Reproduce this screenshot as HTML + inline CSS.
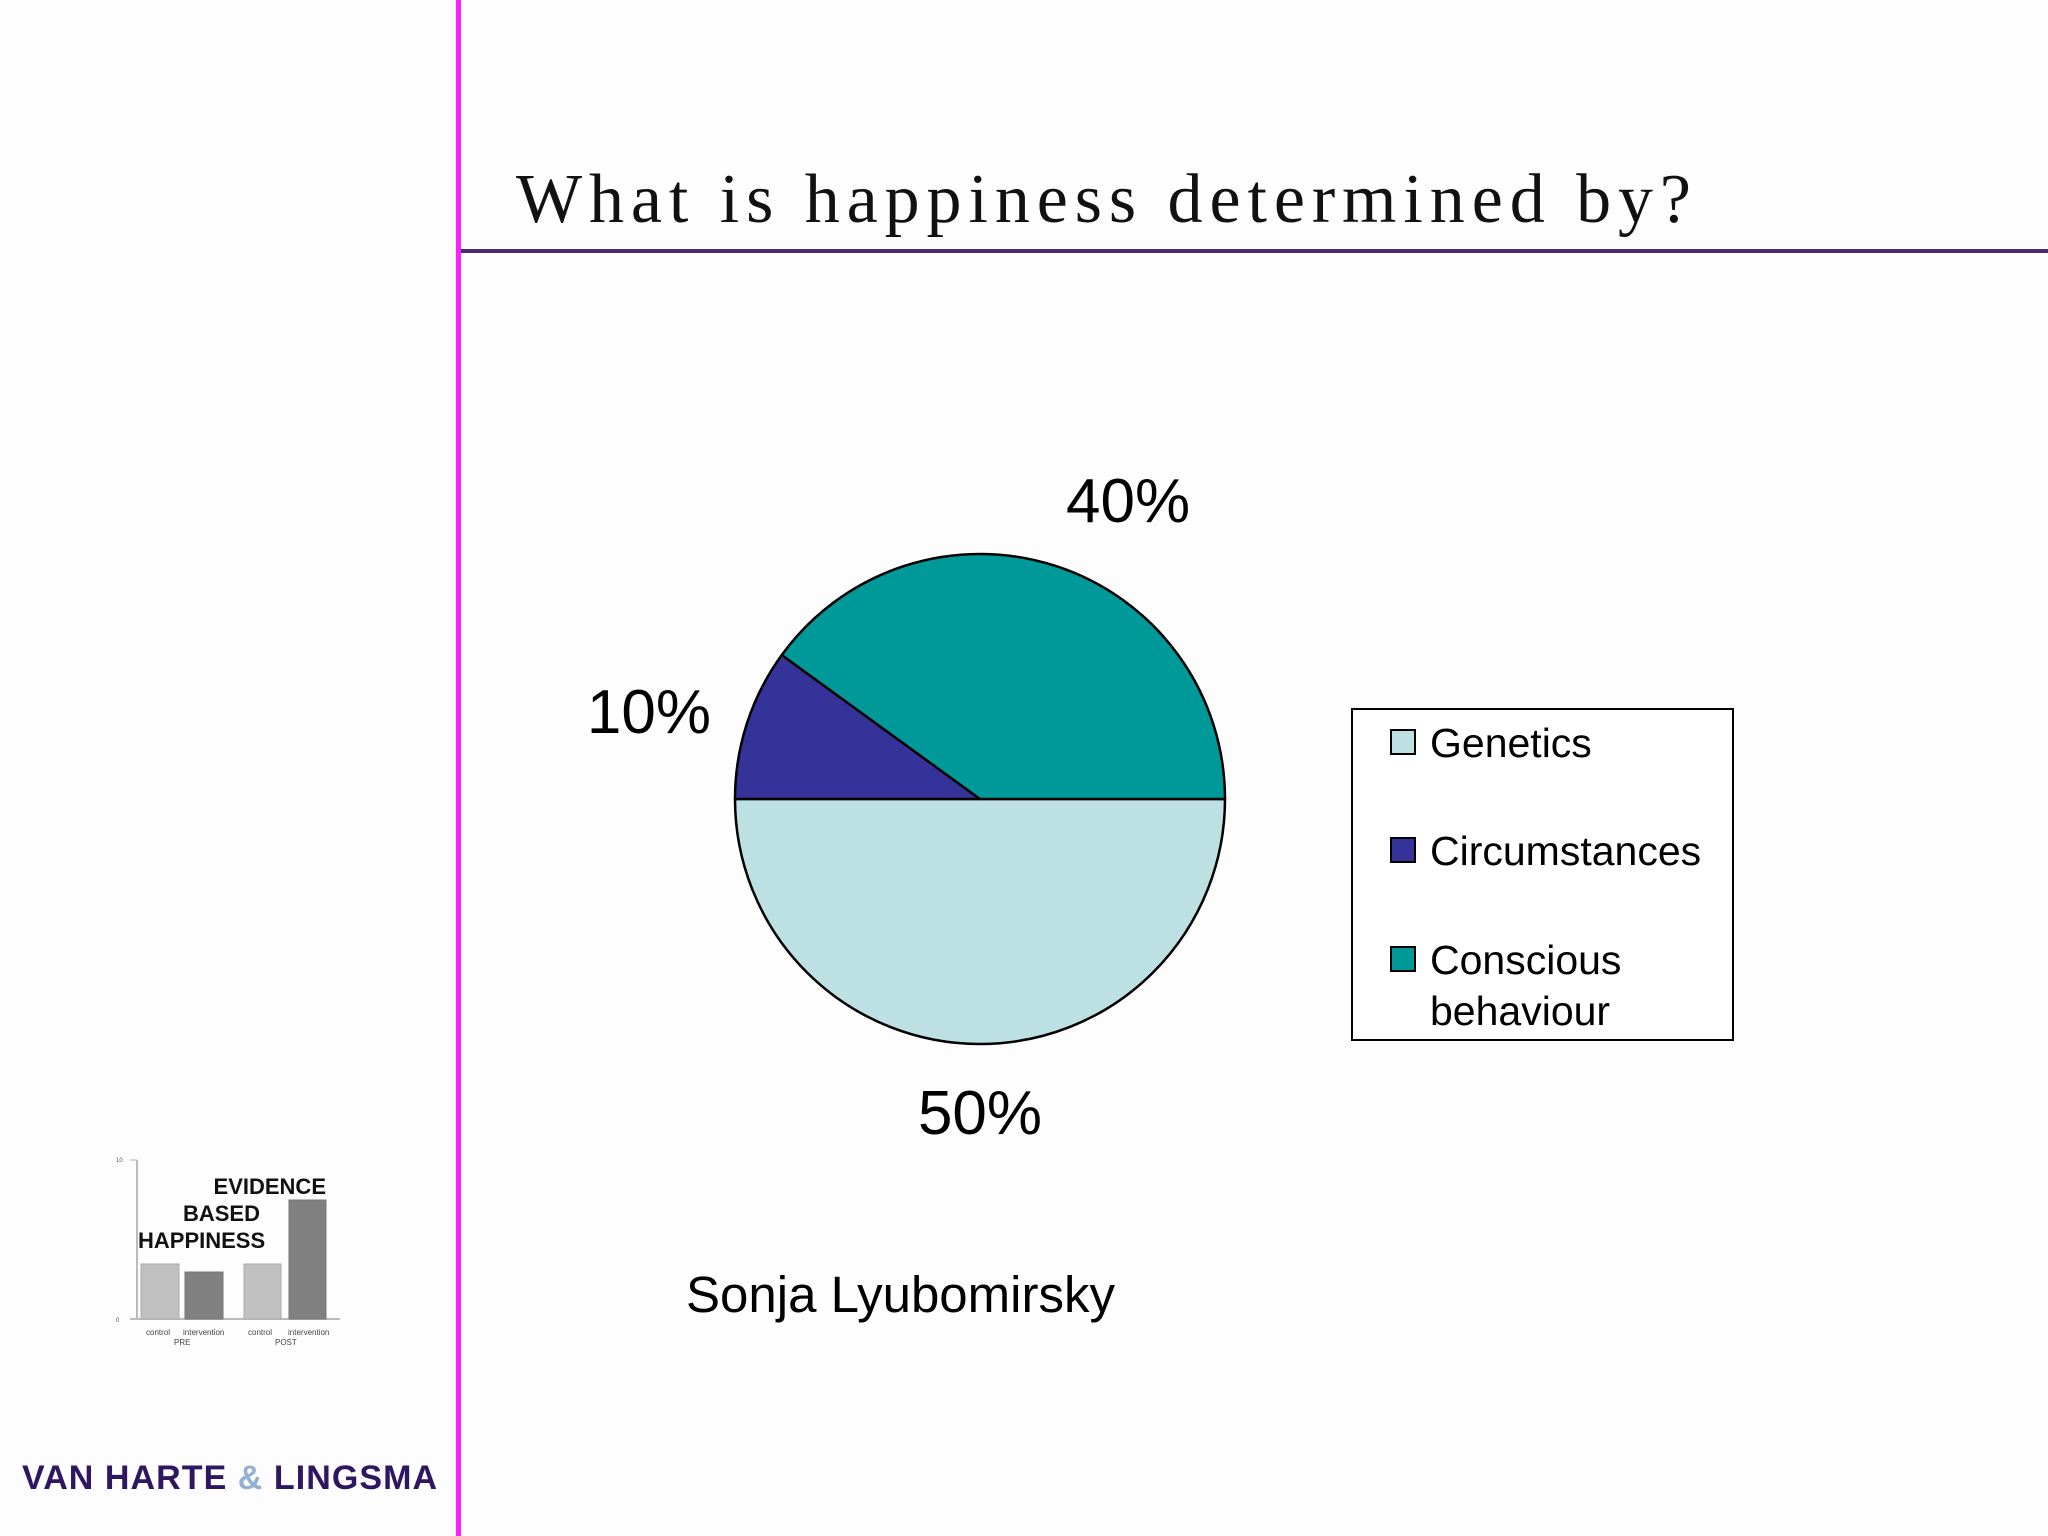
<!DOCTYPE html>
<html><head><meta charset="utf-8"><style>
html,body{margin:0;padding:0;background:#fdfdfd;}
svg{display:block;}
</style></head><body>
<svg id="slide" width="2048" height="1536" viewBox="0 0 2048 1536" xmlns="http://www.w3.org/2000/svg">
<rect width="2048" height="1536" fill="#fdfdfd"/>
<rect x="456" y="0" width="5" height="1536" fill="#ff1eff"/>
<text x="516" y="222" font-family="Liberation Serif, serif" font-size="70" textLength="1175" lengthAdjust="spacing" fill="#111">What is happiness determined by?</text>
<rect x="461" y="249" width="1587" height="4" fill="#4b2a6e"/>
<g id="pie"></g>
<g>
<rect x="1352" y="709" width="381" height="331" fill="#fff" stroke="#000" stroke-width="2"/>
<g id="legend-items"></g>
</g>
<text x="686" y="1312" font-family="Liberation Sans, sans-serif" font-size="51" fill="#000">Sonja Lyubomirsky</text>
<g>
<line x1="137" y1="1160" x2="137" y2="1319" stroke="#bbb" stroke-width="2"/>
<line x1="130" y1="1160" x2="137" y2="1160" stroke="#bbb" stroke-width="1"/>
<line x1="130" y1="1319" x2="340" y2="1319" stroke="#bbb" stroke-width="2"/>
<text x="116" y="1162" font-family="Liberation Sans, sans-serif" font-size="6" fill="#555">10</text>
<text x="116" y="1322" font-family="Liberation Sans, sans-serif" font-size="6" fill="#555">0</text>
<rect x="141" y="1264" width="38" height="55" fill="#c0c0c0" stroke="#aaa"/>
<rect x="185" y="1272" width="38" height="47" fill="#808080" stroke="#777"/>
<rect x="244" y="1264" width="37" height="55" fill="#c0c0c0" stroke="#aaa"/>
<rect x="289" y="1200" width="37" height="119" fill="#808080" stroke="#777"/>
<text x="326" y="1194" text-anchor="end" font-family="Liberation Sans, sans-serif" font-weight="bold" font-size="22" fill="#111">EVIDENCE</text>
<text x="260" y="1221" text-anchor="end" font-family="Liberation Sans, sans-serif" font-weight="bold" font-size="22" fill="#111">BASED</text>
<text x="138" y="1248" font-family="Liberation Sans, sans-serif" font-weight="bold" font-size="22" fill="#111">HAPPINESS</text>
<text x="146" y="1335" font-family="Liberation Sans, sans-serif" font-size="8" fill="#444">control</text>
<text x="183" y="1335" font-family="Liberation Sans, sans-serif" font-size="8" fill="#444">intervention</text>
<text x="248" y="1335" font-family="Liberation Sans, sans-serif" font-size="8" fill="#444">control</text>
<text x="288" y="1335" font-family="Liberation Sans, sans-serif" font-size="8" fill="#444">intervention</text>
<text x="174" y="1345" font-family="Liberation Sans, sans-serif" font-size="8" fill="#444">PRE</text>
<text x="275" y="1345" font-family="Liberation Sans, sans-serif" font-size="8" fill="#444">POST</text>
</g>
<text x="22" y="1489" font-family="Liberation Sans, sans-serif" font-weight="bold" font-size="34" textLength="415" lengthAdjust="spacing" fill="#2e1760">VAN HARTE <tspan fill="#93b2d2">&amp;</tspan> LINGSMA</text>
</svg>
<script>
const categories = ["Genetics", "Circumstances", "Conscious behaviour"];
const values = [50, 10, 40];
const valueLabels = ["50%", "10%", "40%"];
const colors = ["#bde0e3", "#35339a", "#009999"];

const NS = "http://www.w3.org/2000/svg";
const cx = 980, cy = 799, r = 245;
const pie = document.getElementById("pie");
const total = values.reduce((a, b) => a + b, 0);
function angleOf(v) { return v / total * 2 * Math.PI; }
function pt(a, rad) { return [cx + rad * Math.cos(a), cy + rad * Math.sin(a)]; }
let start = 0;
values.forEach((v, i) => {
  const end = start + angleOf(v);
  const [x1, y1] = pt(start, r), [x2, y2] = pt(end, r);
  const large = (end - start) > Math.PI ? 1 : 0;
  const p = document.createElementNS(NS, "path");
  p.setAttribute("d", `M${cx},${cy} L${x1},${y1} A${r},${r} 0 ${large} 1 ${x2},${y2} Z`);
  p.setAttribute("fill", colors[i]);
  p.setAttribute("stroke", "#000");
  p.setAttribute("stroke-width", "2.5");
  p.setAttribute("stroke-linejoin", "round");
  
  
  pie.appendChild(p);
  const mid = (start + end) / 2;
  const c = Math.cos(mid), s = Math.sin(mid);
  const [px, py] = pt(mid, r + 40);
  const hw = 60, hh = 28;
  const lx = px + (Math.abs(c) > 0.2 ? Math.sign(c) * hw : 0);
  const ly = py + (Math.abs(s) > 0.35 ? Math.sign(s) * hh : 0);
  const t = document.createElementNS(NS, "text");
  t.setAttribute("x", lx);
  t.setAttribute("y", ly + 22);
  t.setAttribute("text-anchor", "middle");
  t.setAttribute("font-family", "Liberation Sans, sans-serif");
  t.setAttribute("font-size", "62");
  t.textContent = valueLabels[i];
  
  
  pie.appendChild(t);
  start = end;
});

const legend = document.getElementById("legend-items");
const rowY = [742, 850, 959];
categories.forEach((c, i) => {
  const g = document.createElementNS(NS, "g");
  
  
  const sq = document.createElementNS(NS, "rect");
  sq.setAttribute("x", 1391); sq.setAttribute("y", rowY[i] - 12);
  sq.setAttribute("width", 24); sq.setAttribute("height", 24);
  sq.setAttribute("fill", colors[i]); sq.setAttribute("stroke", "#000"); sq.setAttribute("stroke-width", "2");
  g.appendChild(sq);
  const words = c === "Conscious behaviour" ? ["Conscious", "behaviour"] : [c];
  words.forEach((w, k) => {
    const t = document.createElementNS(NS, "text");
    t.setAttribute("x", 1430); t.setAttribute("y", rowY[i] + 15 + k * 51);
    t.setAttribute("font-family", "Liberation Sans, sans-serif");
    t.setAttribute("font-size", "41");
    t.textContent = w;
    g.appendChild(t);
  });
  legend.appendChild(g);
});
</script>
</body></html>
